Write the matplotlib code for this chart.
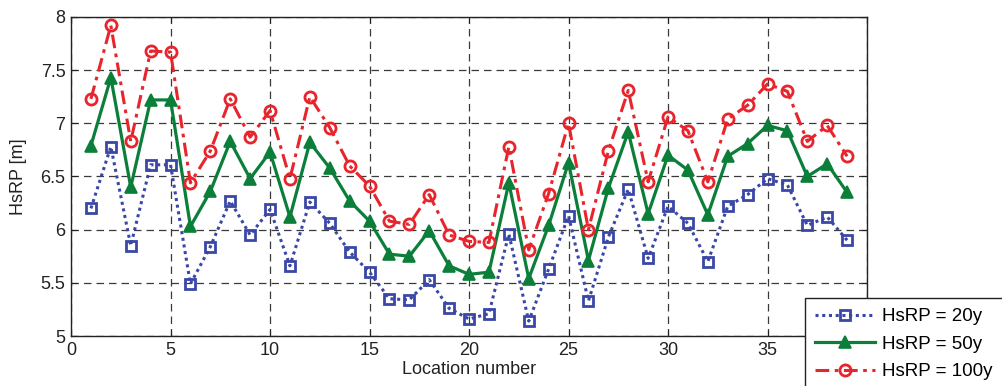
import matplotlib
matplotlib.use("Agg")
import matplotlib.pyplot as plt
import numpy as np

plt.rcParams["font.family"] = ["Liberation Sans", "DejaVu Sans"]

locations = list(range(1, 40))

hsrp_20y = [6.20, 6.78, 5.85, 6.61, 6.61, 5.49, 5.84, 6.27, 5.95, 6.19,
            5.66, 6.26, 6.06, 5.79, 5.60, 5.35, 5.34, 5.53, 5.26, 5.16,
            5.21, 5.96, 5.14, 5.63, 6.13, 5.33, 5.93, 6.38, 5.73, 6.22,
            6.06, 5.70, 6.22, 6.33, 6.48, 6.42, 6.04, 6.12, 5.90]

hsrp_50y = [6.79, 7.43, 6.40, 7.22, 7.22, 6.03, 6.36, 6.83, 6.48, 6.73,
            6.12, 6.82, 6.58, 6.27, 6.08, 5.77, 5.75, 5.99, 5.66, 5.58,
            5.60, 6.44, 5.54, 6.04, 6.63, 5.71, 6.39, 6.92, 6.15, 6.70,
            6.56, 6.14, 6.69, 6.81, 6.98, 6.93, 6.50, 6.62, 6.35]

hsrp_100y = [7.23, 7.92, 6.83, 7.68, 7.67, 6.44, 6.74, 7.23, 6.87, 7.12,
             6.48, 7.25, 6.96, 6.60, 6.41, 6.08, 6.05, 6.33, 5.95, 5.89,
             5.88, 6.78, 5.81, 6.34, 7.00, 6.00, 6.74, 7.31, 6.45, 7.06,
             6.93, 6.45, 7.04, 7.17, 7.37, 7.30, 6.83, 6.98, 6.69]

labels = ["HsRP = 20y", "HsRP = 50y", "HsRP = 100y"]
x_ticks = [0, 5, 10, 15, 20, 25, 30, 35, 40]
y_ticks = [5, 5.5, 6, 6.5, 7, 7.5, 8]

blue = "#3A47A6"
green = "#0B7F3A"
red = "#E8242C"

fig = plt.figure(figsize=(10.02, 3.86), dpi=100)
ax = fig.add_axes([0.0709, 0.1295, 0.7944, 0.8265])

l1, = ax.plot(locations, hsrp_20y, color=blue, linestyle=(0, (1, 1.2)), lw=2.2,
              marker="s", ms=7, mfc="none", mec=blue, mew=2.0)
l2, = ax.plot(locations, hsrp_50y, color=green, linestyle="-", lw=2.3,
              marker="^", ms=9, mfc=green, mec=green, mew=1.2)
l3, = ax.plot(locations, hsrp_100y, color=red, linestyle=(0, (4.5, 1.8, 1.2, 1.8)), lw=2.2,
              marker="o", ms=8, mfc="none", mec=red, mew=2.0)

ax.set_xlim(0, 40)
ax.set_ylim(5, 8)
ax.set_xticks(x_ticks)
ax.set_yticks(y_ticks)
ax.set_yticklabels(["5", "5.5", "6", "6.5", "7", "7.5", "8"])
ax.tick_params(direction="in", top=True, right=True, length=4, width=0.8,
               labelsize=13, colors="#222222", pad=4)
ax.grid(True, color="#3a3a3a", linestyle=(0, (6, 4)), lw=0.9)
ax.set_axisbelow(True)
for s in ax.spines.values():
    s.set_linewidth(1.0)
    s.set_color("#222222")

ax.set_xlabel("Location number", fontsize=13, color="#222222", labelpad=2)
ax.set_ylabel("HsRP [m]", fontsize=13, color="#222222", labelpad=10)

leg = fig.legend([l1, l2, l3], labels, loc="upper left",
                 bbox_to_anchor=(0.8034, 0.228), bbox_transform=fig.transFigure,
                 fontsize=13.5, frameon=True, fancybox=False, framealpha=1,
                 edgecolor="#222222", handlelength=3.2, handletextpad=0.35,
                 labelspacing=0.55, borderpad=0.55, borderaxespad=0)
leg.get_frame().set_linewidth(1.0)

fig.savefig("out.png", dpi=100)
